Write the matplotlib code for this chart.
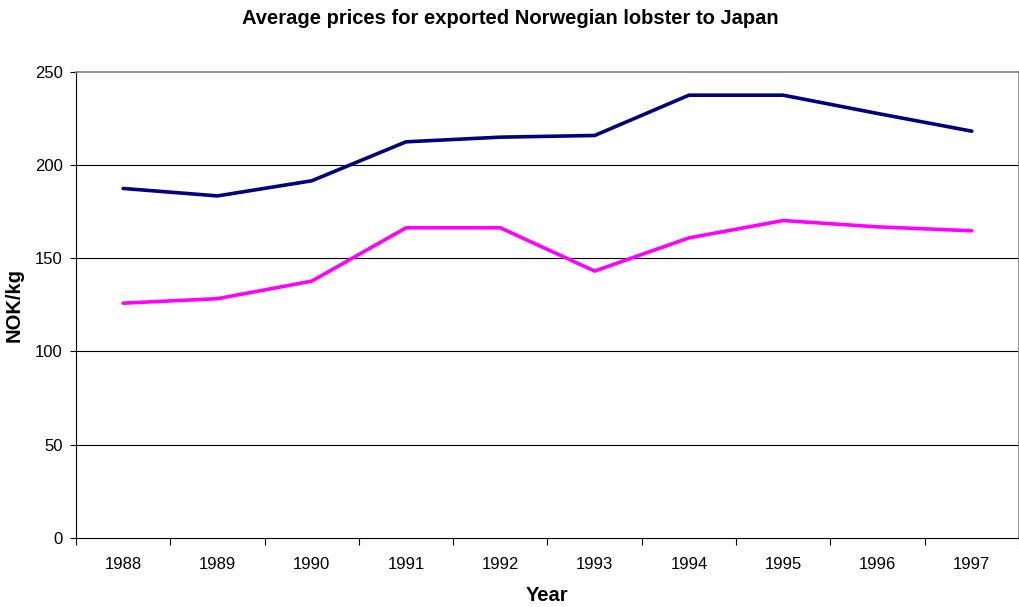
import matplotlib
matplotlib.use("Agg")
import matplotlib.pyplot as plt
import numpy as np

years = ["1988", "1989", "1990", "1991", "1992", "1993", "1994", "1995", "1996", "1997"]
series_a = [187.4, 183.4, 191.5, 212.4, 214.9, 215.8, 237.4, 237.4, 227.6, 218.1]
series_b = [125.9, 128.3, 137.7, 166.3, 166.3, 143.1, 160.9, 170.2, 166.8, 164.7]
yticks = [0, 50, 100, 150, 200, 250]

plt.rcParams['font.family'] = ['Liberation Sans', 'DejaVu Sans']

fig = plt.figure(figsize=(10.2, 6.07), dpi=100)
ax = fig.add_axes([0.0745, 0.1137, 0.9245, 0.7682])

x = np.arange(len(years))
ax.plot(x, series_a, color='#000080', lw=2.6, solid_capstyle='round', zorder=3)
ax.plot(x, series_b, color='#FF00FF', lw=2.6, solid_capstyle='round', zorder=3)

ax.set_xlim(-0.5, len(years) - 0.5)
ax.set_ylim(0, 250)
ax.set_yticks(yticks)
ax.set_yticklabels([str(v) for v in yticks], fontsize=12)
ax.set_xticks(x)
ax.set_xticklabels(years, fontsize=12)
ax.tick_params(axis='x', which='major', length=0, pad=13.5)
ax.set_xticks(np.arange(-0.5, len(years)), minor=True)
ax.tick_params(axis='x', which='minor', length=5, direction='out', width=0.8)
ax.tick_params(axis='y', length=4.5, direction='out', width=0.8, pad=5)

for v in yticks[1:-1]:
    ax.axhline(v, color='black', lw=0.8, zorder=1)

ax.spines['top'].set_color('#808080')
ax.spines['right'].set_color('#808080')
ax.spines['top'].set_linewidth(1.2)
ax.spines['right'].set_linewidth(1.2)
ax.spines['left'].set_color('black')
ax.spines['bottom'].set_color('black')

ax.set_xlabel('Year', fontsize=14.5, fontweight='bold', va='center')
ax.xaxis.set_label_coords(0.5, -0.124)
ax.set_ylabel('NOK/kg', fontsize=14.5, fontweight='bold', va='center')
ax.yaxis.set_label_coords(-0.0657, 0.5)
fig.text(0.5, 1 - 18 / 607, 'Average prices for exported Norwegian lobster to Japan',
         ha='center', va='center', fontsize=14.5, fontweight='bold')

fig.savefig('out.png', dpi=100)
